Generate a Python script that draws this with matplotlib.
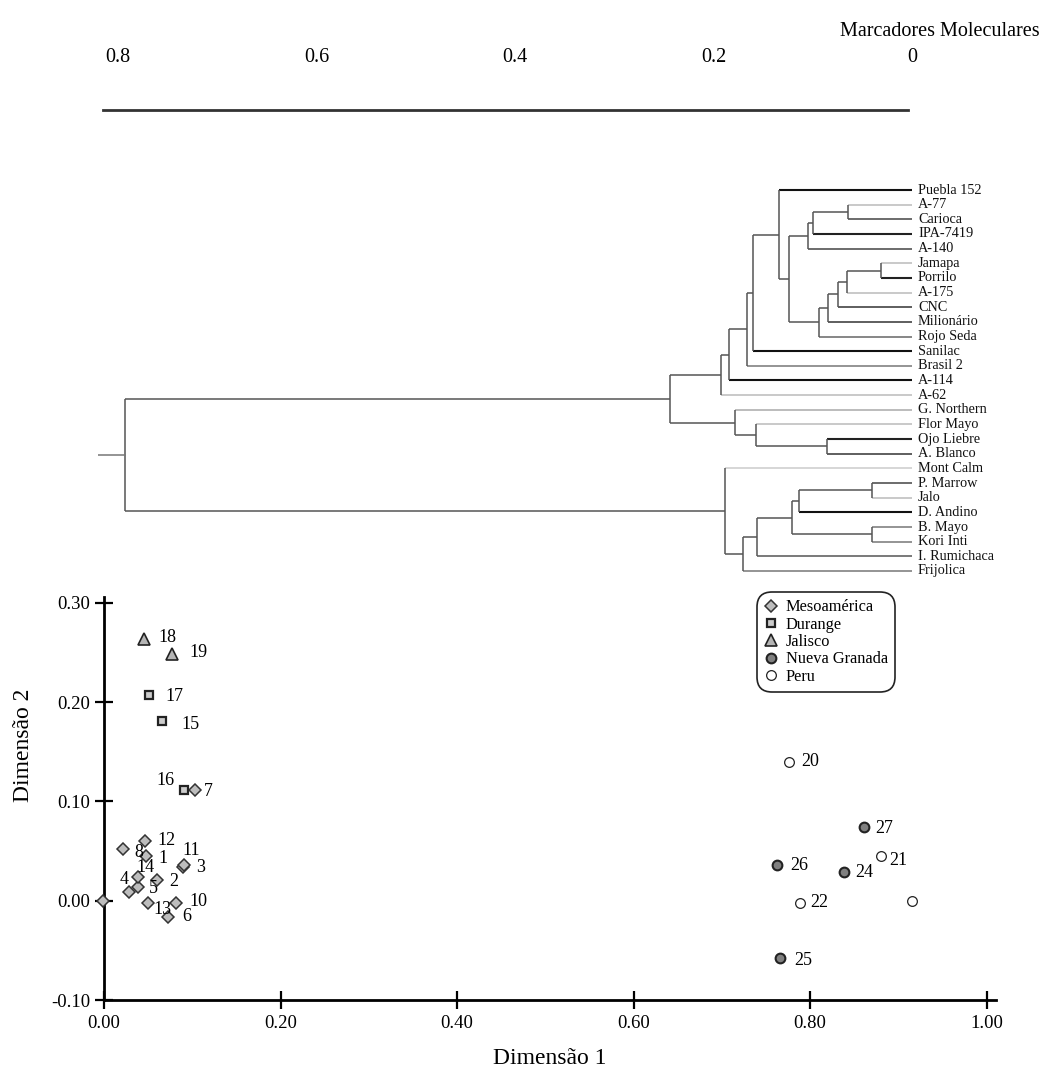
import matplotlib
matplotlib.use("Agg")
import matplotlib.pyplot as plt
from matplotlib.lines import Line2D

plt.rcParams["font.family"] = ["Liberation Serif", "DejaVu Serif"]

# ---------------- data ----------------
leaf_names = [
    "Puebla 152", "A-77", "Carioca", "IPA-7419", "A-140", "Jamapa", "Porrilo",
    "A-175", "CNC", "Milionário", "Rojo Seda", "Sanilac", "Brasil 2", "A-114",
    "A-62", "G. Northern", "Flor Mayo", "Ojo Liebre", "A. Blanco", "Mont Calm",
    "P. Marrow", "Jalo", "D. Andino", "B. Mayo", "Kori Inti", "I. Rumichaca",
    "Frijolica",
]
# merges: leaves are 0..26, merge k creates node 27+k
merge_left = [1, 27, 28, 5, 30, 31, 32, 33, 29, 0, 36, 37, 38, 39,
              17, 16, 15, 40, 20, 45, 23, 46, 48, 49, 19, 44]
merge_right = [2, 3, 4, 6, 7, 8, 9, 10, 34, 35, 11, 12, 13, 14,
               18, 41, 42, 43, 21, 22, 24, 47, 25, 26, 50, 51]
merge_height = [0.0645, 0.0997, 0.1048, 0.0312, 0.0655, 0.0745, 0.0846, 0.0937,
                0.1239, 0.134, 0.160, 0.166, 0.184, 0.192,
                0.0856, 0.157, 0.178, 0.244, 0.040, 0.114, 0.040, 0.121,
                0.156, 0.170, 0.188, 0.793]
scale_ticks = [0.8, 0.6, 0.4, 0.2, 0.0]
scale_ticklabels = ["0.8", "0.6", "0.4", "0.2", "0"]

point_labels = ["1", "2", "3", "4", "5", "6", "7", "8", "9", "10", "11", "12", "13", "14",
                "15", "16", "17", "18", "19", "20", "21", "22", "", "24", "25", "26", "27"]
dim1 = [0.048, 0.060, 0.090, 0.028, 0.038, 0.072, 0.103, 0.022, -0.001, 0.082,
        0.091, 0.046, 0.050, 0.039, 0.066, 0.091, 0.051, 0.045, 0.077,
        0.776, 0.880, 0.789, 0.915, 0.838, 0.766, 0.762, 0.861]
dim2 = [0.045, 0.021, 0.034, 0.009, 0.014, -0.016, 0.112, 0.052, 0.000, -0.002,
        0.036, 0.060, -0.002, 0.024, 0.181, 0.112, 0.207, 0.264, 0.249,
        0.140, 0.045, -0.002, 0.000, 0.029, -0.058, 0.036, 0.074]
group = ["Mesoamérica"] * 14 + ["Durange"] * 3 + ["Jalisco"] * 2 + \
        ["Peru"] * 4 + ["Nueva Granada"] * 4
groups = ["Mesoamérica", "Durange", "Jalisco", "Nueva Granada", "Peru"]
x_ticks = [0.0, 0.2, 0.4, 0.6, 0.8, 1.0]
y_ticks = [-0.10, 0.0, 0.10, 0.20, 0.30]

# ---------------- styles ----------------
leaf_colors = ["#111111", "#bbbbbb", "#444444", "#222222", "#444444", "#bbbbbb",
               "#222222", "#bbbbbb", "#333333", "#333333", "#666666", "#111111",
               "#777777", "#111111", "#bbbbbb", "#aaaaaa", "#bbbbbb", "#222222",
               "#333333", "#cccccc", "#444444", "#bbbbbb", "#111111", "#777777",
               "#777777", "#555555", "#777777"]
inner_color = "#555555"
group_style = {
    "Mesoamérica": dict(marker="D", markersize=6.2, markerfacecolor="#bdbdbd",
                        markeredgecolor="#333333", markeredgewidth=1.1),
    "Durange": dict(marker="s", markersize=6.0, markerfacecolor="#cccccc",
                    markeredgecolor="#222222", markeredgewidth=1.6),
    "Jalisco": dict(marker="^", markersize=8.0, markerfacecolor="#b5b5b5",
                    markeredgecolor="#222222", markeredgewidth=1.2),
    "Nueva Granada": dict(marker="o", markersize=7.0, markerfacecolor="#808080",
                          markeredgecolor="#222222", markeredgewidth=1.5),
    "Peru": dict(marker="o", markersize=7.0, markerfacecolor="white",
                 markeredgecolor="#222222", markeredgewidth=0.9),
}
# label offsets in pixels (dx, dy), y upward
label_offsets = {
    "1": (17, -2), "2": (17, -2), "3": (17, -1), "4": (-5, 12), "5": (16, -2),
    "6": (19, 0), "7": (13, -2), "8": (15, -3), "9": (19, -1), "10": (22, 1),
    "11": (7, 15), "12": (22, 1), "13": (14, -7), "14": (7, 9), "15": (28, -3),
    "16": (-19, 9), "17": (25, -1), "18": (24, 1), "19": (26, 1), "20": (21, 0),
    "21": (18, -4), "22": (19, 0), "24": (21, -1), "25": (23, -2), "26": (23, 0),
    "27": (20, -1),
}

W, H = 1056, 1079
fig = plt.figure(figsize=(W / 100, H / 100), dpi=100)


def box(left, top, right, bottom):
    return [left / W, 1 - bottom / H, (right - left) / W, (bottom - top) / H]


# ---------------- dendrogram ----------------
ax_d = fig.add_axes(box(98, 182.7, 912, 578.3))
ax_d.set_xlim(0.82, 0.0)
ax_d.set_ylim(len(leaf_names) - 0.5, -0.5)
ax_d.axis("off")

n_leaves = len(leaf_names)
node_pos = {i: (float(i), 0.0) for i in range(n_leaves)}
for k, (a, b, h) in enumerate(zip(merge_left, merge_right, merge_height)):
    node = n_leaves + k
    for child in (a, b):
        cy, ch = node_pos[child]
        col = leaf_colors[child] if child < n_leaves else inner_color
        lw = 1.5 if col in ("#111111", "#222222") else 1.1
        ax_d.plot([ch, h], [cy, cy], color=col, lw=lw, solid_capstyle="butt")
    ya, yb = node_pos[a][0], node_pos[b][0]
    ax_d.plot([h, h], [ya, yb], color=inner_color, lw=1.1, solid_capstyle="butt")
    node_pos[node] = ((ya + yb) / 2, h)

root_y, root_h = node_pos[n_leaves + len(merge_height) - 1]
ax_d.plot([root_h, 0.82], [root_y, root_y], color="#777777", lw=1.1)

for i, name in enumerate(leaf_names):
    ax_d.text(-0.006, i, name, ha="left", va="center", fontsize=10.3,
              color="#111111", clip_on=False)

# distance scale above the tree
ax_t = fig.add_axes(box(98, 109, 912, 110))
ax_t.set_xlim(0.82, 0.0)
for side in ("left", "right", "top"):
    ax_t.spines[side].set_visible(False)
ax_t.spines["bottom"].set_bounds(0.815, 0.004)
ax_t.spines["bottom"].set_linewidth(2.0)
ax_t.spines["bottom"].set_color("#333333")
ax_t.set_yticks([])
ax_t.set_xticks(scale_ticks)
ax_t.set_xticklabels(scale_ticklabels)
ax_t.xaxis.set_ticks_position("top")
ax_t.tick_params(axis="x", length=0, pad=30, labelsize=14.5, labeltop=True,
                 labelbottom=False)

fig.text(1040 / W, 1 - 32 / H, "Marcadores Moleculares", ha="right",
         va="center", fontsize=14.5)

# ---------------- scatter ----------------
ax = fig.add_axes(box(104, 597, 996, 1000))
ax.set_xlim(0.0, 1.0105)
ax.set_ylim(-0.10, 0.306)
for side in ("top", "right"):
    ax.spines[side].set_visible(False)
for side in ("left", "bottom"):
    ax.spines[side].set_linewidth(2.0)
    ax.spines[side].set_color("black")
ax.set_xticks(x_ticks)
ax.set_xticklabels([f"{v:.2f}" for v in x_ticks])
ax.set_yticks(y_ticks)
ax.set_yticklabels([f"{v:.2f}" for v in y_ticks])
ax.tick_params(axis="both", direction="inout", length=13.5, width=1.6,
               labelsize=13.5)
ax.tick_params(axis="x", pad=4)
ax.tick_params(axis="y", pad=3)

for g in groups:
    xs = [x for x, gg in zip(dim1, group) if gg == g]
    ys = [y for y, gg in zip(dim2, group) if gg == g]
    ax.plot(xs, ys, linestyle="none", clip_on=False, zorder=5, **group_style[g])

for lab, x, y in zip(point_labels, dim1, dim2):
    if not lab:
        continue
    dx, dy = label_offsets[lab]
    ax.annotate(lab, (x, y), xytext=(dx, dy), textcoords="offset pixels",
                ha="center", va="center", fontsize=13, zorder=6)

handles = [Line2D([], [], linestyle="none", **group_style[g]) for g in groups]
leg = ax.legend(handles, groups, loc="upper left",
                bbox_to_anchor=(757 / W, 1 - 592 / H),
                bbox_transform=fig.transFigure, fontsize=11.8, frameon=True,
                fancybox=True, handlelength=0.8, handletextpad=0.5,
                labelspacing=0.08, borderpad=0.45, borderaxespad=0)
frame = leg.get_frame()
frame.set_edgecolor("#222222")
frame.set_linewidth(1.2)
frame.set_facecolor("white")
frame.set_alpha(1)
frame.set_boxstyle("round", pad=0, rounding_size=0.9)

fig.text(550 / W, 1 - 1058 / H, "Dimensão 1", ha="center", va="center",
         fontsize=17)
fig.text(24 / W, 1 - 745 / H, "Dimensão 2", ha="center", va="center",
         rotation=90, fontsize=17)

fig.savefig("out.png", dpi=100, facecolor="white")
